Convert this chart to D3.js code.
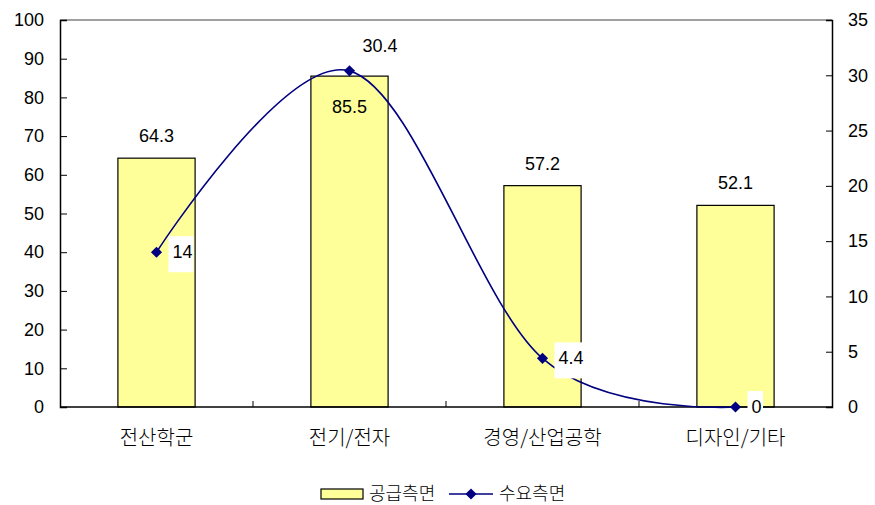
<!DOCTYPE html>
<html>
<head>
<meta charset="utf-8">
<script src="https://cdn.jsdelivr.net/npm/d3@7"></script>
<style>
  body { margin: 0; background: #fff; }
  svg { display: block; }
  text { font-family: "Liberation Sans", Arial, sans-serif; fill: #000; }
  .kr { font-family: "Noto Sans CJK KR", "Noto Sans", sans-serif; font-weight: 300; }
</style>
</head>
<body>
<svg id="chart" width="875" height="505"></svg>
<script>
// Categories and the two series
const categories = ["전산학군", "전기/전자", "경영/산업공학", "디자인/기타"];
const supply = [64.3, 85.5, 57.2, 52.1];   // 공급측면 (left axis)
const demand = [14, 30.4, 4.4, 0];         // 수요측면 (right axis)
const leftTicks = [0, 10, 20, 30, 40, 50, 60, 70, 80, 90, 100];
const rightTicks = [0, 5, 10, 15, 20, 25, 30, 35];
const seriesNames = ["공급측면", "수요측면"];

const svg = d3.select("#chart");
const m = { left: 60, right: 832, top: 20, bottom: 407 };
const numFont = 18;

const x = d3.scaleBand().domain(categories).range([m.left, m.right]);
const yL = d3.scaleLinear().domain([0, 100]).range([m.bottom, m.top]);
const yR = d3.scaleLinear().domain([0, 35]).range([m.bottom, m.top]);

const barW = x.bandwidth() * 0.4;
const cx = d => x(d) + x.bandwidth() / 2;

// top border of plot area
svg.append("line")
  .attr("x1", m.left).attr("x2", m.right)
  .attr("y1", m.top).attr("y2", m.top)
  .attr("stroke", "#808080").attr("stroke-width", 1.5);

// bars
svg.append("g").selectAll("rect").data(categories).join("rect")
  .attr("x", (d) => cx(d) - barW / 2)
  .attr("y", (d, i) => yL(supply[i]))
  .attr("width", barW)
  .attr("height", (d, i) => m.bottom - yL(supply[i]))
  .attr("fill", "#FFFF99")
  .attr("stroke", "#000").attr("stroke-width", 1.2);

// bar value labels (the tallest one sits inside its bar)
svg.append("g").selectAll("text").data(categories).join("text")
  .attr("x", d => cx(d))
  .attr("y", (d, i) => i === 1 ? yL(supply[i]) + 37 : yL(supply[i]) - 16)
  .attr("text-anchor", "middle")
  .attr("font-size", numFont)
  .text((d, i) => supply[i]);

// left axis
const gL = svg.append("g").attr("transform", `translate(${m.left},0)`)
  .call(d3.axisLeft(yL).tickValues(leftTicks).tickSize(-7).tickPadding(16));
gL.select(".domain").attr("stroke", "#000").attr("stroke-width", 1.5);
gL.selectAll(".tick line").attr("stroke", "#000");
gL.selectAll(".tick text").attr("font-size", numFont)
  .attr("font-family", "Liberation Sans, Arial, sans-serif").attr("fill", "#000");

// right axis
const gR = svg.append("g").attr("transform", `translate(${m.right},0)`)
  .call(d3.axisRight(yR).tickValues(rightTicks).tickSize(-6).tickPadding(16));
gR.select(".domain").attr("stroke", "#000").attr("stroke-width", 1.5);
gR.selectAll(".tick line").attr("stroke", "#000");
gR.selectAll(".tick text").attr("font-size", numFont)
  .attr("font-family", "Liberation Sans, Arial, sans-serif").attr("fill", "#000");

// bottom axis line with ticks on category boundaries
svg.append("line")
  .attr("x1", m.left).attr("x2", m.right)
  .attr("y1", m.bottom).attr("y2", m.bottom)
  .attr("stroke", "#000").attr("stroke-width", 1.5);
svg.append("g").selectAll("line").data(categories.slice(1)).join("line")
  .attr("x1", d => x(d)).attr("x2", d => x(d))
  .attr("y1", m.bottom).attr("y2", m.bottom - 6)
  .attr("stroke", "#000");

// category labels
svg.append("g").selectAll("text").data(categories).join("text")
  .attr("class", "kr")
  .attr("x", d => cx(d)).attr("y", 445)
  .attr("text-anchor", "middle")
  .attr("font-size", 20)
  .text(d => d);

// smoothed demand line
const line = d3.line()
  .x((d, i) => cx(categories[i]))
  .y(d => yR(d))
  .curve(d3.curveCardinal.tension(0));
svg.append("path").datum(demand)
  .attr("d", line)
  .attr("fill", "none")
  .attr("stroke", "#000080").attr("stroke-width", 1.6);

// diamond marker: a square turned 45 degrees
const marker = d3.symbol().type(d3.symbolSquare).size(62);
svg.append("g").selectAll("path").data(demand).join("path")
  .attr("transform", (d, i) => `translate(${cx(categories[i])},${yR(d)}) rotate(45)`)
  .attr("d", marker)
  .attr("fill", "#000080");

// demand value labels, boxed in white
const dl = svg.append("g").selectAll("g").data(demand).join("g")
  .attr("transform", (d, i) => {
    const px = cx(categories[i]), py = yR(d);
    return i === 1 ? `translate(${px + 9},${py - 19})` : `translate(${px + 12},${py})`;
  });
dl.filter((d, i) => i !== 1).append("rect")
  .attr("x", 0).attr("y", -16)
  .attr("width", (d) => String(d).length * 9.5 + 6)
  .attr("height", 36)
  .attr("fill", "#fff");
dl.append("text")
  .attr("x", 4).attr("y", (d, i) => i === 1 ? 0 : 6)
  .attr("font-size", numFont)
  .text(d => d);

// legend
const lg = svg.append("g");
lg.append("rect").attr("x", 321).attr("y", 489).attr("width", 42).attr("height", 10)
  .attr("fill", "#FFFF99").attr("stroke", "#000").attr("stroke-width", 1.2);
lg.append("text").attr("class", "kr").attr("x", 369).attr("y", 500)
  .attr("font-size", 18).text(seriesNames[0]);
lg.append("line").attr("x1", 449).attr("x2", 493).attr("y1", 494).attr("y2", 494)
  .attr("stroke", "#000080").attr("stroke-width", 1.6);
lg.append("path").attr("transform", "translate(471,494) rotate(45)").attr("d", marker).attr("fill", "#000080");
lg.append("text").attr("class", "kr").attr("x", 499).attr("y", 500)
  .attr("font-size", 18).text(seriesNames[1]);
</script>
</body>
</html>
